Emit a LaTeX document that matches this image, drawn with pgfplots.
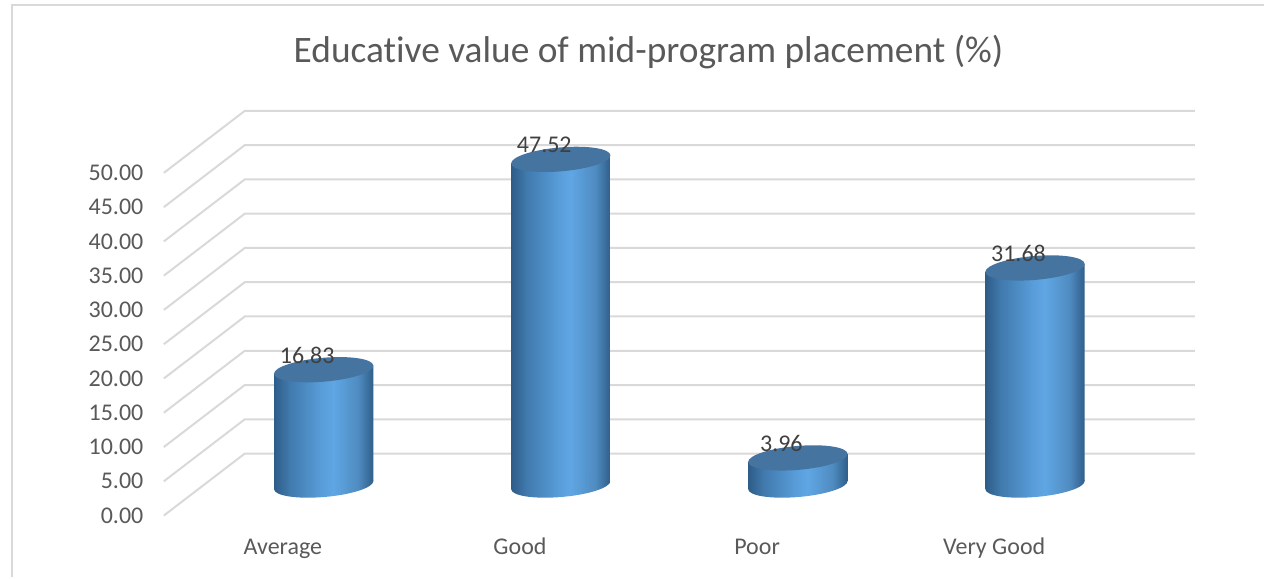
\documentclass[border=0pt]{standalone}
\usepackage{fontspec}
\setmainfont[Ligatures=NoCommon]{Carlito}
\usepackage{pgfplots}
\usepackage{pgfplotstable}
\pgfplotsset{compat=1.18}
\definecolor{gridc}{HTML}{D9D9D9}
\definecolor{txtc}{HTML}{595959}
\definecolor{lblc}{HTML}{404040}
\definecolor{capc}{HTML}{44749F}
\definecolor{c1}{HTML}{2E5C88}
\definecolor{c2}{HTML}{4079AC}
\definecolor{c3}{HTML}{5A9FDC}
\definecolor{c4}{HTML}{5FA6E4}
\definecolor{c5}{HTML}{4F8BC0}
\definecolor{c6}{HTML}{2F5E8A}
\pgfdeclarehorizontalshading{cyl}{100bp}{color(0bp)=(c1);color(25bp)=(c1);color(32.5bp)=(c2);color(50bp)=(c3);color(55bp)=(c4);color(67.5bp)=(c5);color(75bp)=(c6);color(100bp)=(c6)}
\pgfdeclareplotmark{cylbase}{%
  \pgfpathellipse{\pgfpointorigin}{\pgfpoint{49.7pt}{4pt}}{\pgfpoint{0pt}{12pt}}%
  \pgfshadepath{cyl}{0}\pgfusepath{discard}}
\pgfdeclareplotmark{cyltop}{%
  \pgfpathellipse{\pgfpointorigin}{\pgfpoint{49.7pt}{4pt}}{\pgfpoint{0pt}{12pt}}%
  \pgfusepathqfill}
\pgfplotstableread{
x v
0.002 16.83
1.002 47.52
2.002 3.96
3.002 31.68
}\valuetable
\pgfplotstableread{
x v
0.002 0
1.002 0
2.002 0
3.002 0
}\basetable
\begin{document}
\begin{tikzpicture}
\begin{axis}[
  scale only axis, width=1032pt, height=405pt,
  xmin=-0.6721, xmax=3.6767, ymin=0, ymax=59.04,
  clip=false,
  axis line style={draw=none},
  major tick length=0pt,
  tick style={draw=none},
  xtick={-0.17,0.83,1.83,2.83},
  xticklabels={Average,Good,Poor,Very Good},
  ytick={0,5,10,15,20,25,30,35,40,45,50},
  xtick pos=bottom, ytick pos=left,
  scaled y ticks=false,
  tick label style={font=\fontsize{24}{28}\selectfont, text=txtc},
  yticklabel style={xshift=-17pt,/pgf/number format/fixed,/pgf/number format/fixed zerofill,/pgf/number format/precision=2,/pgf/number format/assume math mode=true},
  xticklabel style={yshift=-19pt,text height=16pt,text depth=5pt},
  title={Educative value of mid-program placement (\%)},
  title style={at={(0.47,1.1311)},anchor=center,font=\fontsize{37.4}{44}\selectfont,text=txtc},
]
% picture extent and outer frame
\path (axis cs:-1.3632,-9.038) rectangle (axis cs:3.968,75.219);
\addplot[gridc,line width=2pt,forget plot] coordinates {(-1.3127,-9.038) (-1.3127,74.42) (3.968,74.42)};
% wall and floor lines
\addplot[gridc,line width=2pt,forget plot] coordinates {(-0.6721,0) (-0.3308,9.04) (3.6767,9.04)};
\addplot[gridc,line width=2pt,forget plot] coordinates {(-0.6721,5) (-0.3308,14.04) (3.6767,14.04)};
\addplot[gridc,line width=2pt,forget plot] coordinates {(-0.6721,10) (-0.3308,19.04) (3.6767,19.04)};
\addplot[gridc,line width=2pt,forget plot] coordinates {(-0.6721,15) (-0.3308,24.04) (3.6767,24.04)};
\addplot[gridc,line width=2pt,forget plot] coordinates {(-0.6721,20) (-0.3308,29.04) (3.6767,29.04)};
\addplot[gridc,line width=2pt,forget plot] coordinates {(-0.6721,25) (-0.3308,34.04) (3.6767,34.04)};
\addplot[gridc,line width=2pt,forget plot] coordinates {(-0.6721,30) (-0.3308,39.04) (3.6767,39.04)};
\addplot[gridc,line width=2pt,forget plot] coordinates {(-0.6721,35) (-0.3308,44.04) (3.6767,44.04)};
\addplot[gridc,line width=2pt,forget plot] coordinates {(-0.6721,40) (-0.3308,49.04) (3.6767,49.04)};
\addplot[gridc,line width=2pt,forget plot] coordinates {(-0.6721,45) (-0.3308,54.04) (3.6767,54.04)};
\addplot[gridc,line width=2pt,forget plot] coordinates {(-0.6721,50) (-0.3308,59.04) (3.6767,59.04)};
% cylinder bases
\addplot[only marks,mark=cylbase,yshift=30.5pt,forget plot] table[x=x,y=v]{\basetable};
% cylinder bodies
\addplot[draw=none,shade,shading=cyl,yshift=30.5pt,forget plot] coordinates {(-0.2075,-0.583) (-0.2075,16.247) (0.2115,17.413) (0.2115,0.583)} -- cycle;
\addplot[draw=none,shade,shading=cyl,yshift=30.5pt,forget plot] coordinates {(0.7925,-0.583) (0.7925,46.937) (1.2115,48.103) (1.2115,0.583)} -- cycle;
\addplot[draw=none,shade,shading=cyl,yshift=30.5pt,forget plot] coordinates {(1.7925,-0.583) (1.7925,3.377) (2.2115,4.543) (2.2115,0.583)} -- cycle;
\addplot[draw=none,shade,shading=cyl,yshift=30.5pt,forget plot] coordinates {(2.7925,-0.583) (2.7925,31.097) (3.2115,32.263) (3.2115,0.583)} -- cycle;
% cylinder tops and value labels
\addplot[only marks,mark=cyltop,mark options={fill=capc,draw=none},yshift=30.5pt,
  nodes near coords={\pgfmathprintnumber[fixed,fixed zerofill,precision=2,assume math mode=true]{\pgfplotspointmeta}},
  nodes near coords align={center},
  every node near coord/.append style={anchor=center,xshift=-16.5pt,yshift=14.5pt,font=\fontsize{24}{28}\selectfont,text=lblc},
  forget plot] table[x=x,y=v]{\valuetable};
\end{axis}
\end{tikzpicture}
\end{document}
